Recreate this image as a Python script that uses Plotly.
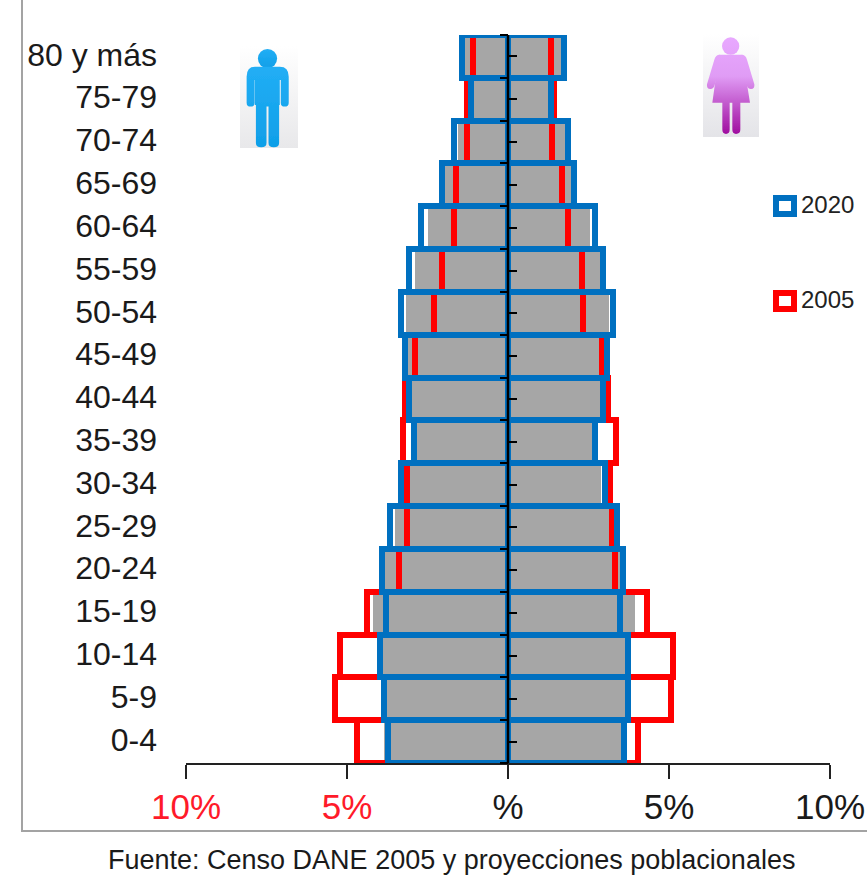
import base64
import plotly.graph_objects as go

ages = ["0-4","5-9","10-14","15-19","20-24","25-29","30-34","35-39","40-44","45-49",
        "50-54","55-59","60-64","65-69","70-74","75-79","80 y más"]

male_2020   = [3.73,3.86,3.97,3.79,3.92,3.67,3.32,2.93,3.08,3.20,3.31,3.06,2.70,2.04,1.67,1.15,1.44]
female_2020 = [3.61,3.73,3.73,3.49,3.56,3.37,3.00,2.71,2.94,3.06,3.25,2.94,2.70,2.04,1.86,1.33,1.74]
male_2005   = [4.70,5.36,5.23,4.38,3.38,3.13,3.13,3.27,3.21,2.89,2.29,2.06,1.69,1.63,1.27,1.27,1.09]
female_2005 = [4.03,5.06,5.12,4.33,3.32,3.24,3.18,3.36,3.10,2.92,2.34,2.29,1.86,1.68,1.38,1.44,1.32]
male_grey   = [3.84,3.94,3.89,4.20,3.81,3.52,3.06,2.87,3.00,3.12,3.18,2.90,2.47,1.97,1.56,1.07,1.35]
female_grey = [3.53,3.65,3.65,3.93,3.65,3.15,2.90,2.63,2.90,3.18,3.15,2.86,2.55,1.96,1.79,1.25,1.65]

x_ticks = [-10,-5,0,5,10]
x_labels = ['<span style="color:#ff1a2a">10%</span>','<span style="color:#ff1a2a">5%</span>','%','5%','10%']

W, H = 867, 879
L, R, T, B = 186, 830, 35, 763
BLUE, RED, GREY = "#0070C0", "#FF0000", "#A6A6A6"
pos = list(range(len(ages)))

def px(x): return x / W
def py(y): return 1 - y / H
def uri(svg): return "data:image/svg+xml;base64," + base64.b64encode(svg.encode()).decode()

man_svg = f'''<svg xmlns="http://www.w3.org/2000/svg" width="175" height="308" viewBox="60 62 175 308">
<defs><linearGradient id="bg" x1="0" y1="0" x2="0" y2="1"><stop offset="0" stop-color="#ffffff"/><stop offset="1" stop-color="#e8e8ea"/></linearGradient>
<linearGradient id="b" x1="0" y1="0" x2="0" y2="1"><stop offset="0" stop-color="#22aef5"/><stop offset="1" stop-color="#0f9fe8"/></linearGradient>
<filter id="f"><feGaussianBlur stdDeviation="1.6"/></filter></defs>
<rect x="60" y="62" width="175" height="308" fill="url(#bg)"/>
<g filter="url(#f)" fill="url(#b)">
<circle cx="143" cy="100" r="29"/>
<path d="M105 125 H180 Q207 125 207 155 V233 Q207 245 195 245 Q183 245 183 233 V165 H180 V240 L178 240 V355 Q178 368 162 368 Q146 368 146 355 V245 H140 V355 Q140 368 124 368 Q108 368 108 355 V240 L105 240 V165 H104 V233 Q104 245 92 245 Q80 245 80 233 V155 Q80 125 105 125 Z"/>
</g></svg>'''

woman_svg = '''<svg xmlns="http://www.w3.org/2000/svg" width="168" height="307" viewBox="40 28 168 307">
<defs><linearGradient id="bg" x1="0" y1="0" x2="0" y2="1"><stop offset="0" stop-color="#ffffff"/><stop offset="1" stop-color="#e4e4e8"/></linearGradient>
<linearGradient id="p" gradientUnits="userSpaceOnUse" x1="0" y1="40" x2="0" y2="325"><stop offset="0" stop-color="#e8a8ff"/><stop offset="0.4" stop-color="#e09cf5"/><stop offset="1" stop-color="#a00ea0"/></linearGradient>
<filter id="f"><feGaussianBlur stdDeviation="1.6"/></filter></defs>
<rect x="40" y="28" width="168" height="307" fill="url(#bg)"/>
<g filter="url(#f)" fill="url(#p)" stroke="none">
<circle cx="123" cy="64" r="26"/>
<path d="M88 90 H158 L181 233 H152 V313 Q152 326 139 326 Q128 326 128 313 V233 H120 V313 Q120 326 109 326 Q98 326 98 313 V233 H68 Z"/>
<path d="M90 90 Q78 90 74 105 L52 178 Q50 192 62 192 Q72 192 75 180 L94 122 Z"/>
<path d="M156 90 Q168 90 172 105 L194 178 Q196 192 184 192 Q174 192 171 180 L152 122 Z"/>
</g></svg>'''

fig = go.Figure()
for vals, sign, fill, line in [
    (male_grey, -1, GREY, None), (female_grey, 1, GREY, None),
    (male_2005, -1, "rgba(0,0,0,0)", RED), (female_2005, 1, "rgba(0,0,0,0)", RED),
    (male_2020, -1, "rgba(0,0,0,0)", BLUE), (female_2020, 1, "rgba(0,0,0,0)", BLUE)]:
    fig.add_bar(x=[sign * v for v in vals], y=pos, orientation="h", width=1,
                marker=dict(color=fill, line=dict(color=line or fill, width=6 if line else 0)),
                cliponaxis=False, showlegend=False, hoverinfo="skip")

fig.add_scatter(x=[0, 0], y=[-0.5, len(ages) - 0.5], yaxis="y2", mode="lines",
                line=dict(color="black", width=2.5), cliponaxis=False, showlegend=False, hoverinfo="skip")
fig.add_scatter(x=[0, 0], y=[-0.5, len(ages) - 0.5], yaxis="y3", mode="lines",
                line=dict(color="rgba(0,0,0,0)", width=1), cliponaxis=False, showlegend=False, hoverinfo="skip")
fig.add_scatter(x=[0, 0], y=[-0.5, len(ages) - 0.5], yaxis="y4", mode="lines",
                line=dict(color="rgba(0,0,0,0)", width=1), showlegend=False, hoverinfo="skip")

yrange = [-0.5, len(ages) - 0.5]
fig.update_layout(
    width=W, height=H, margin=dict(l=0, r=0, t=0, b=0, autoexpand=False), paper_bgcolor="white", plot_bgcolor="rgba(0,0,0,0)",
    barmode="overlay", bargap=0, dragmode=False,
    font=dict(family="Liberation Sans, Arial, sans-serif", color="#1a1a1a"),
    xaxis=dict(domain=[px(L), px(R)], range=[-10, 10], tickmode="array", tickvals=x_ticks, ticktext=x_labels,
               automargin=False, showgrid=False, zeroline=False, showline=True, linecolor="#222", linewidth=2,
               ticks="outside", ticklen=14, tickwidth=2, tickcolor="#222",
               tickfont=dict(size=35, color="#1a1a1a"), ticklabelstandoff=-2),
    yaxis=dict(domain=[py(B), py(T)], range=yrange, showticklabels=False,
               automargin=False, showgrid=False, zeroline=False, showline=False, ticks=""),
    yaxis2=dict(overlaying="y", anchor="free", position=px((L + R) / 2), range=yrange, side="left",
                automargin=False, tickmode="array", tickvals=[i - 0.5 for i in range(len(ages) + 1)], ticks="outside",
                ticklen=8, tickwidth=2, tickcolor="black", showticklabels=False,
                showgrid=False, zeroline=False, showline=False),
    yaxis3=dict(overlaying="y", anchor="free", position=px((L + R) / 2), range=yrange, side="left",
                automargin=False, tickmode="array", tickvals=pos, ticks="inside",
                ticklen=8, tickwidth=2, tickcolor="black", showticklabels=False,
                showgrid=False, zeroline=False, showline=False),
    yaxis4=dict(domain=[py(B - 2), py(T - 2)], range=yrange, anchor="x", tickmode="array", tickvals=pos, ticktext=ages,
                automargin=False, showgrid=False, zeroline=False, showline=False, ticks="", ticklabelstandoff=28,
                tickfont=dict(size=32, color="#1a1a1a")),
    shapes=[
        dict(type="line", xref="paper", yref="paper", x0=px(22), x1=px(22), y0=py(0), y1=py(831), line=dict(color="#a3a3a3", width=2)),
        dict(type="line", xref="paper", yref="paper", x0=px(21), x1=1, y0=py(831), y1=py(831), line=dict(color="#a3a3a3", width=2)),
        dict(type="rect", xref="paper", yref="paper", x0=px(776), x1=px(794), y0=py(198), y1=py(214), line=dict(color=BLUE, width=6)),
        dict(type="rect", xref="paper", yref="paper", x0=px(776), x1=px(794), y0=py(293), y1=py(309), line=dict(color=RED, width=6)),
    ],
    annotations=[
        dict(text="2020", xref="paper", yref="paper", x=px(799), y=py(204.5), xanchor="left", yanchor="middle", showarrow=False, font=dict(size=24, color="#222")),
        dict(text="2005", xref="paper", yref="paper", x=px(799), y=py(299.5), xanchor="left", yanchor="middle", showarrow=False, font=dict(size=24, color="#222")),
        dict(text="Fuente: Censo DANE 2005 y proyecciones poblacionales", xref="paper", yref="paper", x=px(452), y=py(860),
             xanchor="center", yanchor="middle", showarrow=False,
             font=dict(size=27, color="#1a1a1a")),
    ],
    images=[
        dict(source=uri(man_svg), xref="paper", yref="paper", x=px(240), y=py(46), sizex=58/W, sizey=102/H,
             xanchor="left", yanchor="top", sizing="stretch", layer="above"),
        dict(source=uri(woman_svg), xref="paper", yref="paper", x=px(703), y=py(34), sizex=56/W, sizey=103/H,
             xanchor="left", yanchor="top", sizing="stretch", layer="above"),
    ],
)
fig.write_html("out.html", config=dict(displayModeBar=False),
               post_script="document.body.style.margin='0';document.body.style.overflow='hidden';")
